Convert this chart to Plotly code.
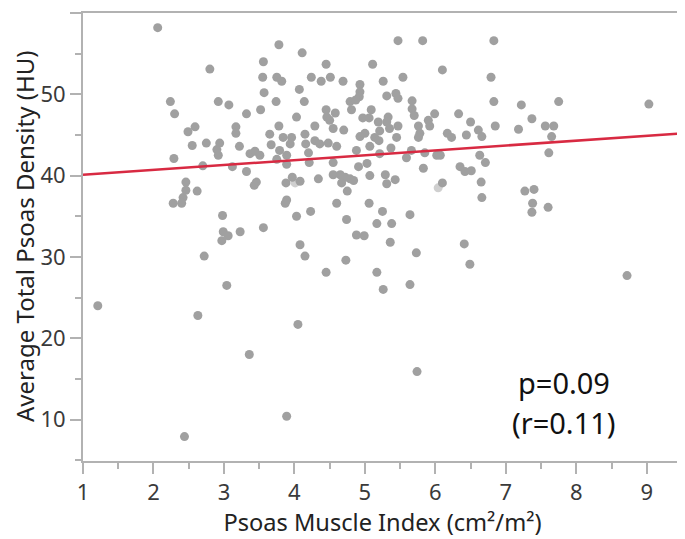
import plotly.graph_objects as go

# Psoas Muscle Index (cm²/m²)
pmi = [
    1.21, 2.06, 2.24, 2.30, 2.29, 2.49, 2.59, 2.55, 2.46, 2.46, 2.42, 2.28, 2.40, 2.62, 2.63, 2.44,
    2.70, 2.72, 2.75, 2.80, 2.92, 2.94, 2.90, 2.92, 2.98, 2.99, 3.06, 2.97, 3.04, 3.07, 3.12, 3.17,
    3.17, 3.22, 3.23, 3.32, 3.32, 3.37, 3.36, 3.44, 3.51, 3.46, 3.43, 3.56, 3.55, 3.57, 3.52, 3.56,
    3.78, 3.75, 3.82, 3.74, 3.78, 3.65, 3.67, 3.84, 3.96, 3.94, 3.79, 3.89, 3.75, 3.89, 3.97, 3.88,
    4.08, 3.89, 3.87, 4.03, 4.08, 4.15, 4.05, 3.89, 4.11, 4.24, 4.38, 4.51, 4.69, 4.45, 4.07, 4.14,
    4.03, 4.29, 4.15, 4.16, 4.29, 4.36, 4.20, 4.45, 4.58, 4.46, 4.50, 4.55, 4.70, 4.48, 4.60, 4.55,
    4.21, 5.47, 5.11, 5.26, 5.54, 4.93, 4.93, 4.92, 4.79, 4.81, 4.87, 5.31, 5.44, 5.47, 5.67, 5.67,
    5.70, 5.09, 4.97, 5.06, 5.19, 5.33, 5.21, 5.35, 5.31, 5.47, 5.45, 4.93, 5.00, 5.14, 5.20, 4.88,
    5.07, 5.21, 5.59, 4.91, 5.03, 5.37, 4.34, 4.55, 4.65, 4.72, 4.79, 4.84, 4.75, 4.67, 5.07, 5.29,
    5.31, 5.43, 4.60, 5.06, 5.25, 5.64, 4.23, 4.74, 5.17, 5.38, 4.88, 4.99, 5.36, 4.73, 4.45, 5.17,
    5.26, 5.64, 5.73, 5.74, 5.82, 6.83, 6.10, 6.79, 6.83, 7.22, 7.75, 5.99, 6.33, 7.37, 5.90, 5.92,
    5.76, 5.78, 5.76, 6.50, 6.61, 6.66, 6.85, 7.18, 7.56, 7.68, 7.65, 6.17, 6.23, 6.44, 5.66, 5.85,
    6.02, 6.07, 6.63, 6.71, 7.61, 5.83, 6.35, 6.42, 6.51, 6.10, 6.65, 6.66, 7.27, 7.40, 7.38, 7.37,
    7.60, 6.41, 6.49, 8.72, 9.03,
]

# Average Total Psoas Density (HU)
density = [
    24.0, 58.2, 49.1, 47.6, 42.1, 45.4, 46.0, 43.7, 39.2, 38.2, 37.3, 36.6, 36.6, 38.1, 22.8, 7.9,
    41.2, 30.1, 44.0, 53.1, 49.1, 44.0, 43.2, 42.5, 35.1, 33.1, 32.6, 32.0, 26.5, 48.7, 41.1, 46.0,
    45.2, 43.6, 33.1, 47.6, 40.5, 42.7, 18.0, 43.0, 42.5, 39.2, 38.8, 54.0, 52.1, 50.2, 48.1, 33.6,
    56.1, 52.1, 51.6, 49.1, 46.1, 45.1, 43.8, 44.7, 44.7, 43.9, 43.1, 42.5, 42.0, 41.4, 39.8, 39.1,
    39.3, 37.0, 36.6, 35.0, 31.5, 30.1, 21.7, 10.4, 55.1, 52.1, 51.6, 52.1, 51.6, 53.7, 50.6, 49.1,
    47.2, 46.1, 45.1, 43.9, 44.3, 43.9, 42.8, 48.1, 47.7, 47.2, 46.8, 45.8, 45.6, 44.0, 43.6, 41.6,
    41.6, 56.6, 53.7, 51.6, 52.1, 51.2, 50.3, 49.7, 49.1, 48.1, 49.3, 49.8, 50.1, 49.5, 49.2, 48.2,
    47.4, 48.1, 47.1, 47.1, 46.6, 47.2, 45.5, 45.8, 46.6, 46.1, 44.7, 44.8, 45.2, 44.7, 44.3, 43.1,
    43.6, 42.7, 42.2, 41.1, 41.5, 43.4, 39.6, 40.1, 40.1, 39.8, 39.6, 39.4, 38.1, 39.1, 40.0, 40.1,
    39.0, 39.5, 36.6, 36.6, 35.6, 35.2, 35.6, 34.6, 34.1, 34.1, 32.7, 32.6, 31.8, 29.6, 28.1, 28.1,
    26.0, 26.6, 30.5, 15.9, 56.6, 56.6, 53.0, 52.1, 49.1, 48.7, 49.1, 47.6, 47.6, 47.0, 46.8, 46.1,
    46.1, 45.2, 44.7, 46.6, 45.6, 44.8, 46.1, 45.7, 46.1, 46.1, 44.8, 45.2, 44.7, 45.0, 43.1, 42.8,
    42.5, 42.5, 42.5, 41.6, 42.8, 40.9, 41.1, 40.5, 40.6, 39.1, 39.2, 37.3, 38.1, 38.3, 36.6, 35.5,
    36.1, 31.6, 29.1, 27.7, 48.8,
]

# faint (lighter) points
faint_pmi = [4.01, 6.04]
faint_density = [39.1, 38.5]

# regression line end points
fit_x = [1.0, 9.5]
fit_y = [40.1, 45.2]

x_ticks = [1, 2, 3, 4, 5, 6, 7, 8, 9]
y_ticks = [10, 20, 30, 40, 50, 60]

x_title = "Psoas Muscle Index (cm²/m²)"
y_title = "Average Total Psoas Density (HU)"
stats_text = ["p=0.09", "(r=0.11)"]

FONT = "Noto Sans"
AX = "#b2b2b2"

fig = go.Figure()
fig.add_trace(go.Scatter(
    x=faint_pmi, y=faint_density, mode="markers",
    marker=dict(size=9, color="#cfcfcf", line=dict(width=0)), hoverinfo="skip"))
fig.add_trace(go.Scatter(
    x=pmi, y=density, mode="markers",
    marker=dict(size=9, color="#a0a0a0", line=dict(width=0))))
fig.add_trace(go.Scatter(
    x=fit_x, y=fit_y, mode="lines",
    line=dict(color="#d82a42", width=2.5)))

axis_common = dict(
    showline=True, linecolor=AX, linewidth=2, mirror=True,
    ticks="outside", tickcolor=AX, tickwidth=2, ticklen=11,
    showgrid=False, zeroline=False, automargin=False,
    tickfont=dict(family=FONT, size=22, color="#3a3a3a"),
)

# page body adds an 8px offset, so the figure is sized to fit the 685x539 window
fig.update_layout(
    width=677, height=531,
    margin=dict(l=75, r=3, t=5, b=78, autoexpand=False),
    paper_bgcolor="white", plot_bgcolor="white",
    showlegend=False,
    xaxis=dict(
        range=[1, 9.5], tickvals=x_ticks,
        minor=dict(dtick=0.5, ticklen=6, tickcolor=AX, tickwidth=2, ticks="outside"),
        title=dict(text=x_title,
                   font=dict(family=FONT, size=23.6, color="#222"), standoff=3),
        **axis_common),
    yaxis=dict(
        range=[4.9, 60], tickvals=y_ticks,
        minor=dict(dtick=5, ticklen=6, tickcolor=AX, tickwidth=2, ticks="outside"),
        **axis_common),
)

fig.add_annotation(x=0, y=0.5, xref="paper", yref="paper", text=y_title,
                   textangle=-90, xanchor="center", yanchor="middle", xshift=-59,
                   showarrow=False, font=dict(family=FONT, size=24, color="#222"))

fig.add_annotation(x=7.83, y=14.6, xref="x", yref="y", text=stats_text[0],
                   showarrow=False, font=dict(family=FONT, size=29, color="#111"))
fig.add_annotation(x=7.83, y=9.6, xref="x", yref="y", text=stats_text[1],
                   showarrow=False, font=dict(family=FONT, size=29, color="#111"))

fig.write_html("out.html")
